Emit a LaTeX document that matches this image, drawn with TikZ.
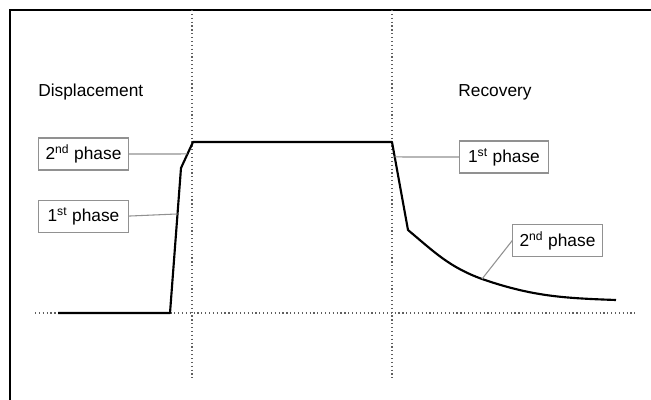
\documentclass[tikz,border=0pt]{standalone}
\usepackage{fontspec}
\setmainfont{Liberation Sans}
\usetikzlibrary{positioning}
\definecolor{guidegray}{RGB}{95,95,95}
\definecolor{boxline}{RGB}{145,145,145}

\begin{document}
\begin{tikzpicture}[
    x=0.75pt, y=-0.75pt,
    phase/.style={rectangle, draw=boxline, line width=0.8pt, minimum width=67pt, minimum height=24pt, inner sep=0pt, font=\fontsize{13}{15}\selectfont},
    heading/.style={inner sep=0pt, font=\fontsize{13}{15}\selectfont},
    trace/.style={line width=1.6pt, line join=round},
    guide/.style={guidegray, dotted, line width=0.9pt},
    leader/.style={boxline, line width=0.8pt}
]
    \useasboundingbox (0,0) rectangle (651,400);
    \draw[line width=2pt] (10,400) -- (10,10) -- (651,10);

    % guides
    \draw[guide] (192,10) -- (192,378);
    \draw[guide] (392,10) -- (392,378);
    \draw[guide] (35,313) -- (635,313);

    \node[heading, anchor=west] (disp) at (38,92) {Displacement};
    \node[heading] (reco) at (495,92) {Recovery};

    \node[phase] (box2L) at (83.5,154) {2\textsuperscript{nd} phase};
    \node[phase, below=21.75pt of box2L] (box1L) {1\textsuperscript{st} phase};
    \node[phase] (box1R) at (504,157) {1\textsuperscript{st} phase};
    \node[phase] (box2R) at (557.5,240.5) {2\textsuperscript{nd} phase};

    \coordinate (start) at (58,313);
    \coordinate (foot) at (170,313);
    \coordinate (kinkL) at (181,168);
    \coordinate (topL) at (193,142);
    \coordinate (topR) at (392,142);
    \coordinate (kinkR) at (408,230);
    \coordinate (tail) at (482,279);
    \coordinate (tailend) at (616,300);

    \draw[trace] (start) -- (foot) -- coordinate[pos=0.683] (l1) (kinkL)
        -- coordinate[pos=0.54] (l2) (topL) -- (topR)
        -- coordinate[pos=0.17] (r1) (kinkR)
        to[out=-40, in=160] (tail) to[out=-19, in=178] (tailend);

    \draw[leader] (box2L.east) -- (l2);
    \draw[leader] (box1L.east) -- (l1);
    \draw[leader] (r1) -- (box1R.west);
    \draw[leader] (tail) -- (box2R.west);
\end{tikzpicture}
\end{document}
